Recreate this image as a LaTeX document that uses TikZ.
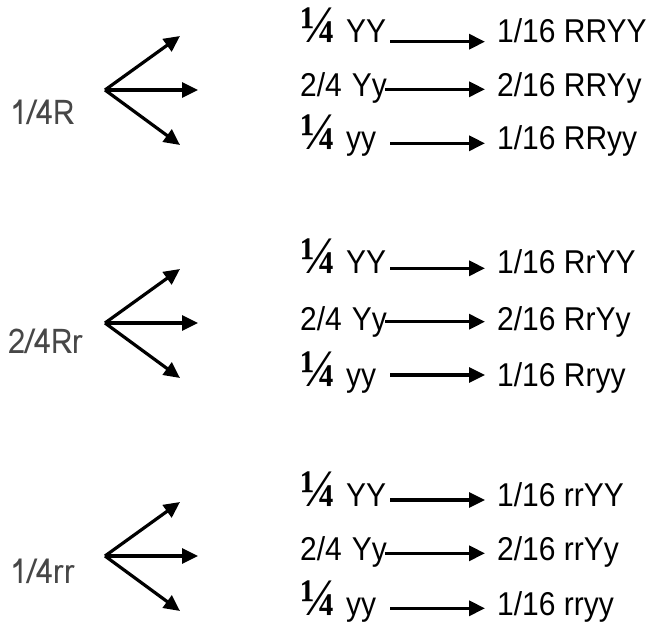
\documentclass[tikz,border=0pt]{standalone}
\usepackage{fontspec}
\setmainfont{Liberation Sans}
\newfontfamily\fracfont{Liberation Serif}
\newfontfamily\lblfont{Loma}
\usetikzlibrary{arrows.meta}
\newcommand{\tallbox}[1]{\scalebox{1}[1.1]{#1}}
\newcommand{\qfrac}{{\fracfont\bfseries\fontsize{48bp}{48bp}\selectfont ¼}}
\begin{document}
\begin{tikzpicture}[x=1bp,y=-1bp,
  txt/.style={inner sep=0pt, anchor=base west, font=\fontsize{30bp}{34bp}\selectfont},
  lefttxt/.style={txt, text width=87bp, align=left},
  lbl/.style={inner sep=0pt, anchor=base west, text=black!72, font=\lblfont\fontsize{31bp}{36bp}\selectfont},
  arr/.style={line width=3.2bp, -{Triangle[length=16bp,width=15bp]}},
  rowarr/.style={arr, shorten >=12bp}]
\useasboundingbox (0,0) rectangle (647,632);

% group 1
\node[lbl] (g1) at (10,125) {\tallbox{1/4R}};
\coordinate (b1) at (105,90);
\coordinate (b1u) at (180,36);
\coordinate (b1m) at (198,90);
\coordinate (b1d) at (180,145);
\draw[arr] (b1) -- (b1u);
\draw[arr] (b1) -- (b1m);
\draw[arr] (b1) -- (b1d);
\node[lefttxt] (l11) at (300,42.7) {\tallbox{\qfrac\ YY}};
\node[lefttxt] (l12) at (300,96.7) {\tallbox{2/4 Yy}};
\node[lefttxt] (l13) at (300,149.3) {\tallbox{\qfrac\ yy}};
\node[txt] (r11) at (497,42.7) {\tallbox{1/16 RRYY}};
\node[txt] (r12) at (497,96.7) {\tallbox{2/16 RRYy}};
\node[txt] (r13) at (497,149.3) {\tallbox{1/16 RRyy}};
\draw[rowarr] ([xshift=3bp]l11.east |- 0,41.7) -- (r11.west |- 0,41.7);
\draw[rowarr] ([xshift=-2bp]l12.east |- 0,89.3) -- (r12.west |- 0,89.3);
\draw[rowarr] ([xshift=3bp]l13.east |- 0,143.3) -- (r13.west |- 0,143.3);

% group 2
\node[lbl] (g2) at (8,353) {\tallbox{2/4Rr}};
\coordinate (b2) at (105,323);
\coordinate (b2u) at (180,269);
\coordinate (b2m) at (198,323);
\coordinate (b2d) at (180,378);
\draw[arr] (b2) -- (b2u);
\draw[arr] (b2) -- (b2m);
\draw[arr] (b2) -- (b2d);
\node[lefttxt] (l21) at (300,273.3) {\tallbox{\qfrac\ YY}};
\node[lefttxt] (l22) at (300,330) {\tallbox{2/4 Yy}};
\node[lefttxt] (l23) at (300,386.7) {\tallbox{\qfrac\ yy}};
\node[txt] (r21) at (497,273.3) {\tallbox{1/16 RrYY}};
\node[txt] (r22) at (497,330) {\tallbox{2/16 RrYy}};
\node[txt] (r23) at (497,386.7) {\tallbox{1/16 Rryy}};
\draw[rowarr] ([xshift=3bp]l21.east |- 0,268.3) -- (r21.west |- 0,268.3);
\draw[rowarr] ([xshift=-2bp]l22.east |- 0,321.7) -- (r22.west |- 0,321.7);
\draw[rowarr] ([xshift=3bp]l23.east |- 0,375) -- (r23.west |- 0,375);

% group 3
\node[lbl] (g3) at (10,583) {\tallbox{1/4rr}};
\coordinate (b3) at (105,556);
\coordinate (b3u) at (180,502);
\coordinate (b3m) at (198,556);
\coordinate (b3d) at (180,611);
\draw[arr] (b3) -- (b3u);
\draw[arr] (b3) -- (b3m);
\draw[arr] (b3) -- (b3d);
\node[lefttxt] (l31) at (300,506.7) {\tallbox{\qfrac\ YY}};
\node[lefttxt] (l32) at (300,560) {\tallbox{2/4 Yy}};
\node[lefttxt] (l33) at (300,615) {\tallbox{\qfrac\ yy}};
\node[txt] (r31) at (497,506.7) {\tallbox{1/16 rrYY}};
\node[txt] (r32) at (497,560) {\tallbox{2/16 rrYy}};
\node[txt] (r33) at (497,615) {\tallbox{1/16 rryy}};
\draw[rowarr] ([xshift=3bp]l31.east |- 0,500) -- (r31.west |- 0,500);
\draw[rowarr] ([xshift=-2bp]l32.east |- 0,553.3) -- (r32.west |- 0,553.3);
\draw[rowarr] ([xshift=3bp]l33.east |- 0,608.3) -- (r33.west |- 0,608.3);
\end{tikzpicture}
\end{document}
